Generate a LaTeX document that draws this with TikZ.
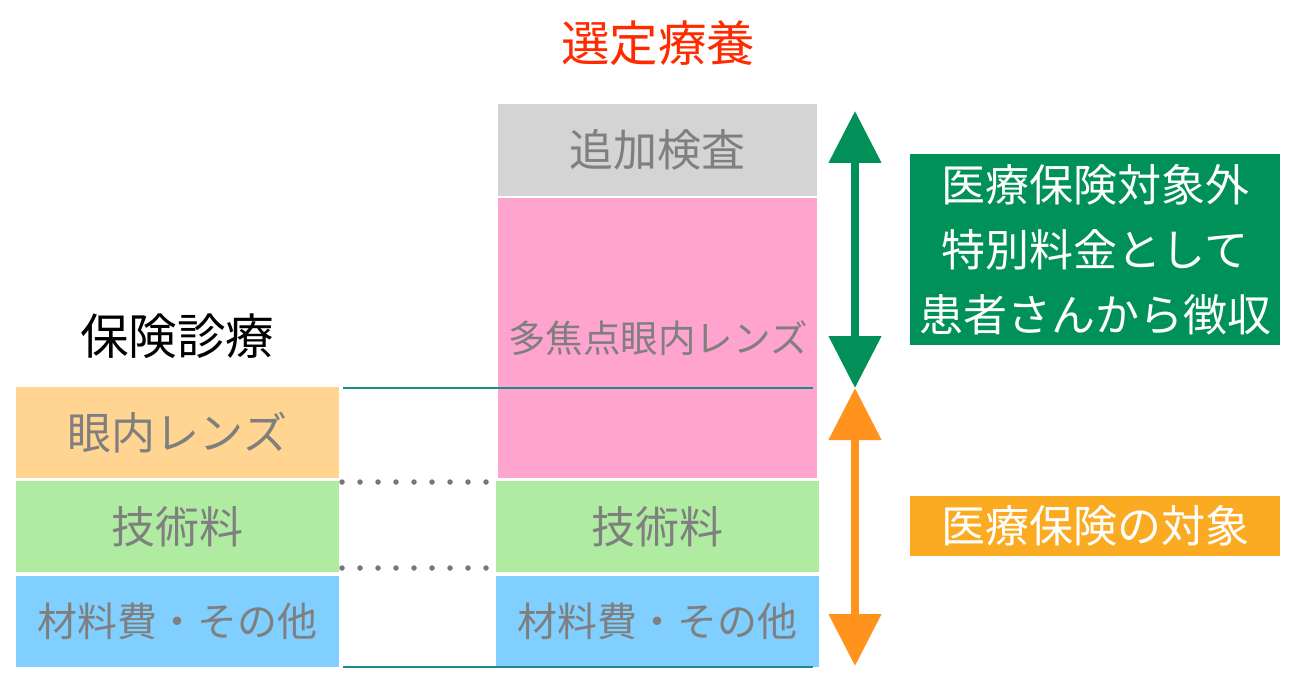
\documentclass[tikz,border=0pt]{standalone}
\usepackage{fontspec}
\newfontfamily\jp{Noto Sans CJK JP}
\usetikzlibrary{arrows.meta, positioning}

\definecolor{titlered}{HTML}{FF2A00}
\definecolor{labelgray}{HTML}{7F7F7F}
\definecolor{lensorange}{HTML}{FFD591}
\definecolor{techgreen}{HTML}{B0EBA2}
\definecolor{matblue}{HTML}{80CFFF}
\definecolor{lenspink}{HTML}{FFA3CF}
\definecolor{examgray}{HTML}{D4D4D4}
\definecolor{lineteal}{HTML}{1A8C8C}
\definecolor{dotgray}{HTML}{777777}
\definecolor{arrowgreen}{HTML}{009058}
\definecolor{arroworange}{HTML}{FF931E}
\definecolor{outgreen}{HTML}{009158}
\definecolor{inorange}{HTML}{FBAB22}

\begin{document}
\begin{tikzpicture}[x=1pt, y=-1pt,
    box/.style={rectangle, inner sep=0pt, minimum width=323pt, minimum height=91pt,
        text=labelgray, font=\jp\fontsize{44}{52}\selectfont},
    infobox/.style={rectangle, inner sep=0pt, minimum width=370pt, align=center,
        text=white, font=\jp\fontsize{44}{65}\selectfont},
    heading/.style={font=\jp\fontsize{48.5}{56}\selectfont},
    split/.style={draw=lineteal, line width=1.2pt},
    dotrow/.style={draw=dotgray, line width=5.5pt, line cap=round, dash pattern=on 0pt off 18pt},
    span/.style={line width=8pt, {Triangle[width=51pt, length=52pt]}-{Triangle[width=51pt, length=52pt]}}]

        \useasboundingbox (0,0) rectangle (1294,690);

        % titles
        \node[heading, text=titlered] (sentei) at (658,43) {選定療養};
        \node[heading, text=black] (hoken) at (177,336) {保険診療};

        % insured treatment
        \node[box, fill=lensorange] (lensL) at (177.5,432.5) {眼内レンズ};
        \node[box, fill=techgreen, below=3pt of lensL] (techL) {技術料};
        \node[box, fill=matblue, below=3pt of techL, font=\jp\fontsize{40}{48}\selectfont] (matL) {材料費・その他};

        % selected treatment
        \node[box, fill=techgreen, right=157pt of techL] (techR) {技術料};
        \node[box, fill=matblue, below=3pt of techR, font=\jp\fontsize{40}{48}\selectfont] (matR) {材料費・その他};
        \node[box, fill=lenspink, minimum width=319pt, minimum height=280pt, above=3pt of techR,
            font=\jp\fontsize{37.5}{45}\selectfont] (multi) {多焦点眼内レンズ};
        \node[box, fill=examgray, minimum width=319pt, minimum height=92pt, above=2pt of multi] (exam) {追加検査};

        % level lines
        \coordinate (topL) at (343,388);
        \coordinate (topR) at (813,388);
        \coordinate (botL) at (343,667);
        \coordinate (botR) at (813,667);
        \draw[split] (topL) -- (topR);
        \draw[split] (botL) -- (botR);

        \coordinate (dotAL) at (342,482);
        \coordinate (dotAR) at (486,482);
        \coordinate (dotBL) at (342,568);
        \coordinate (dotBR) at (486,568);
        \draw[dotrow] (dotAL) -- (dotAR);
        \draw[dotrow] (dotBL) -- (dotBR);

        % ranges
        \coordinate (gTop) at (855,111);
        \coordinate (mid) at (855,388);
        \coordinate (oBot) at (855,666);
        \draw[span, arrowgreen] (gTop) -- (mid);
        \draw[span, arroworange] (mid) -- (oBot);

        \node[infobox, fill=outgreen, minimum height=191pt] (outNote) at (1095,249.5)
            {医療保険対象外\\特別料金として\\患者さんから徴収};
        \node[infobox, fill=inorange, minimum height=60pt] (inNote) at (1095,526) {医療保険の対象};

\end{tikzpicture}
\end{document}
